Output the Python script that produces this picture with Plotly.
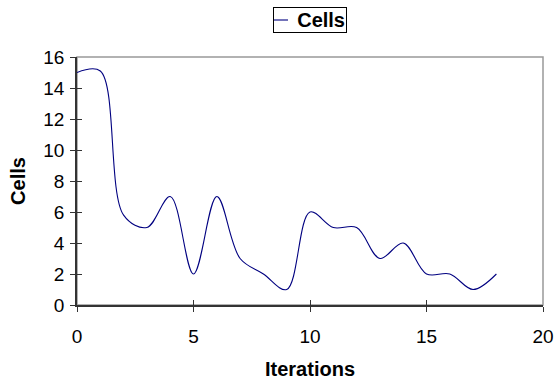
import plotly.graph_objects as go

iterations = list(range(19))
cells = [15, 15.1, 5.8, 5, 7, 2, 7, 3, 2, 1, 6, 5, 5, 3, 4, 2, 2, 1, 2]
series_name = "Cells"
x_ticks = [0, 5, 10, 15, 20]
y_ticks = list(range(0, 17, 2))

line_color = "#000080"
font_main = "Liberation Sans, Arial, sans-serif"

fig = go.Figure()
fig.add_trace(go.Scatter(
    x=iterations, y=cells, mode="lines", name=series_name, showlegend=False,
    line=dict(color=line_color, width=1.1, shape="spline", smoothing=1.0),
))
fig.add_trace(go.Scatter(x=[0], y=[0], xaxis="x2", yaxis="y2", mode="markers",
                         marker=dict(opacity=0), showlegend=False, hoverinfo="skip"))

axis_common = dict(showgrid=False, zeroline=False, linecolor="#333333", linewidth=1.5,
                   ticks="outside", ticklen=5, tickcolor="#333333", tickwidth=1,
                   automargin=False,
                   tickfont=dict(family=font_main, size=19, color="black"))

# plot area in px: x 77..543, y 57..305
def px_x(p):
    return (p - 77) / 466.0

def px_y(p):
    return (305 - p) / 248.0

fig.update_layout(
    width=556, height=383,
    margin=dict(l=77, r=13, t=57, b=78, autoexpand=False),
    paper_bgcolor="white", plot_bgcolor="white",
    font=dict(family=font_main, color="black"),
    showlegend=False,
    xaxis=dict(range=[0, 20], tickvals=x_ticks, ticklabelstandoff=8,
               title=dict(text="<b>Iterations</b>", font=dict(size=20), standoff=16),
               **axis_common),
    yaxis=dict(range=[0, 16], tickvals=y_ticks, ticklabelstandoff=2,
               title=dict(text="<b>Cells</b>", font=dict(size=20), standoff=12),
               **axis_common),
    xaxis2=dict(range=[0, 20], overlaying="x", tickvals=x_ticks, showticklabels=False,
                ticks="inside", ticklen=5, tickcolor="#333333", showgrid=False, zeroline=False,
                showline=False, automargin=False),
    yaxis2=dict(range=[0, 16], overlaying="y", tickvals=y_ticks, showticklabels=False,
                ticks="inside", ticklen=5, tickcolor="#333333", showgrid=False, zeroline=False,
                showline=False, automargin=False),
    shapes=[
        dict(type="rect", xref="paper", yref="paper", x0=0, x1=1, y0=0, y1=1,
             line=dict(color="#999999", width=1.5), layer="below"),
        dict(type="line", xref="paper", yref="paper", x0=px_x(274), x1=px_x(288),
             y0=px_y(20), y1=px_y(20), line=dict(color=line_color, width=1.1)),
    ],
    annotations=[
        dict(text="<b>" + series_name + "</b>", xref="paper", yref="paper",
             x=px_x(310), y=px_y(20), xanchor="center", yanchor="middle",
             showarrow=False, width=70, height=22, align="right",
             bordercolor="black", borderwidth=1, borderpad=1, bgcolor="rgba(0,0,0,0)",
             font=dict(size=20, family=font_main, color="black")),
    ],
)
fig.write_html("out.html")
